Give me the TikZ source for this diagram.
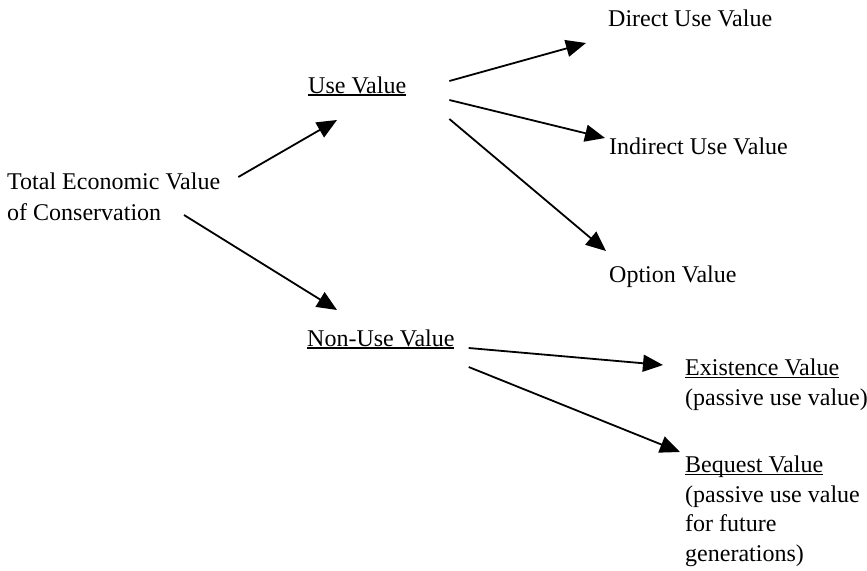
\documentclass[tikz,border=0pt]{standalone}
\usepackage{fontspec}
\setmainfont{Liberation Serif}
\usepackage{tikz}
\usetikzlibrary{arrows.meta,positioning,calc}

\newcommand{\ulword}[1]{\setbox0\hbox{#1}\rlap{\rule[-2.5pt]{\wd0}{1.1pt}}\box0}

\tikzset{
  value text/.style={inner sep=0pt, anchor=base west, font=\fontsize{24}{29.5}\selectfont, align=left},
  value arrow/.style={-{Triangle[length=20pt,width=17pt]}, line width=1.8pt},
}

\begin{document}
\begin{tikzpicture}[x=1pt,y=-1pt]
    \useasboundingbox (0,0) rectangle (867,570);
    % base of a multi-line node is its last line
    \node (total) [value text, font=\fontsize{24}{31}\selectfont] at (7,220) {Total Economic Value\\of Conservation};
    \node (use) [value text] at (308,93) {\ulword{Use Value}};
    \node (direct) [value text] at (608,27) {Direct Use Value};
    \node (indirect) [value text] at (609,154) {Indirect Use Value};
    \node (option) [value text] at (609,282) {Option Value};
    \node (nonuse) [value text] at (307,346) {\ulword{Non-Use Value}};
    \node (existence) [value text] at (685,405) {\ulword{Existence Value}\\(passive use value)};
    \node (bequest) [value text] at (685,561) {\ulword{Bequest Value}\\(passive use value\\for future\\generations)};
    \draw [value arrow] ($(total.base east)+(18,-43)$) -- ($(use.base west)+(29,27)$);
    \draw [value arrow] ($(total.base west)+(177,-5)$) -- ($(nonuse.base west)+(30,-36)$);
    \draw [value arrow] ($(use.base east)+(43,-12)$) -- ($(direct.base west)+(-22,16)$);
    \draw [value arrow] ($(use.base east)+(43,7)$) -- ($(indirect.base west)+(-4,-16)$);
    \draw [value arrow] ($(use.base east)+(43,26)$) -- ($(option.base west)+(-3,-31)$);
    \draw [value arrow] ($(nonuse.base east)+(14,2)$) -- ($(existence.base west)+(-22,-40)$);
    \draw [value arrow] ($(nonuse.base east)+(14,21)$) -- ($(bequest.base west)+(-5,-109)$);
\end{tikzpicture}
\end{document}
